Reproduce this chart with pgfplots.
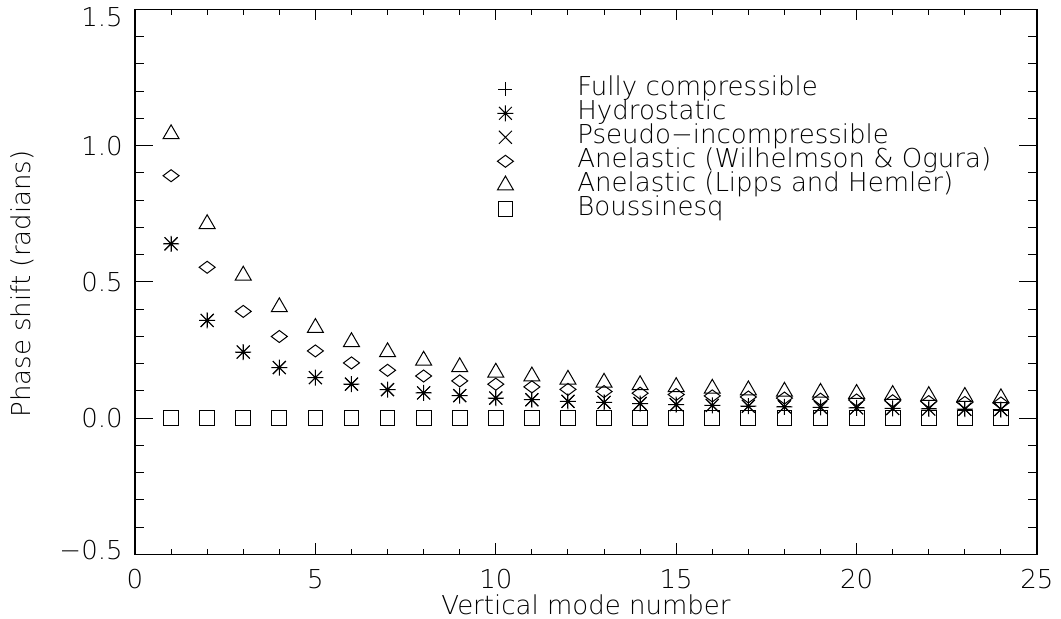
\documentclass[border=0pt]{standalone}
\usepackage{fontspec}
\IfFontExistsTF{DejaVu Sans ExtraLight}{\setmainfont{DejaVu Sans ExtraLight}}{\setmainfont{Poppins}}
\usepackage{pgfplots}
\pgfplotsset{compat=1.18}
\pgfdeclareplotmark{ast8}{%
 \pgfpathmoveto{\pgfqpoint{-\pgfplotmarksize}{0pt}}\pgfpathlineto{\pgfqpoint{\pgfplotmarksize}{0pt}}%
 \pgfpathmoveto{\pgfqpoint{0pt}{-\pgfplotmarksize}}\pgfpathlineto{\pgfqpoint{0pt}{\pgfplotmarksize}}%
 \pgfpathmoveto{\pgfqpoint{-0.8\pgfplotmarksize}{-0.8\pgfplotmarksize}}\pgfpathlineto{\pgfqpoint{0.8\pgfplotmarksize}{0.8\pgfplotmarksize}}%
 \pgfpathmoveto{\pgfqpoint{-0.8\pgfplotmarksize}{0.8\pgfplotmarksize}}\pgfpathlineto{\pgfqpoint{0.8\pgfplotmarksize}{-0.8\pgfplotmarksize}}%
 \pgfusepathqstroke}
\pgfplotstableread{
n fc hy ps aw al bq
1 0.640 0.640 0.640 0.890 1.043 0
2 0.359 0.359 0.359 0.554 0.713 0
3 0.243 0.243 0.243 0.392 0.524 0
4 0.186 0.186 0.186 0.300 0.408 0
5 0.149 0.149 0.149 0.247 0.332 0
6 0.125 0.125 0.125 0.203 0.280 0
7 0.105 0.105 0.105 0.176 0.243 0
8 0.093 0.093 0.093 0.155 0.212 0
9 0.083 0.083 0.083 0.137 0.188 0
10 0.074 0.074 0.074 0.125 0.168 0
11 0.068 0.068 0.068 0.115 0.154 0
12 0.062 0.062 0.062 0.106 0.142 0
13 0.058 0.058 0.058 0.098 0.131 0
14 0.054 0.054 0.054 0.092 0.122 0
15 0.050 0.050 0.050 0.087 0.115 0
16 0.047 0.047 0.047 0.082 0.109 0
17 0.044 0.044 0.044 0.078 0.103 0
18 0.042 0.042 0.042 0.074 0.098 0
19 0.040 0.040 0.040 0.070 0.094 0
20 0.038 0.038 0.038 0.067 0.090 0
21 0.036 0.036 0.036 0.064 0.086 0
22 0.034 0.034 0.034 0.061 0.082 0
23 0.033 0.033 0.033 0.058 0.079 0
24 0.032 0.032 0.032 0.056 0.074 0
}\datatable
\newcommand\lfont{\fontsize{13}{15}\selectfont}
\begin{document}
\begin{tikzpicture}
\begin{axis}[
  at={(0,0)}, anchor=south west, scale only axis,
  width=451pt, height=272.5pt,
  xmin=0, xmax=25, ymin=-0.5, ymax=1.5,
  xtick={0,5,10,15,20,25}, xticklabels={0,5,10,15,20,25},
  minor x tick num=4,
  ytick=\empty,
  major tick length=5.5pt, minor tick length=2.75pt,
  tick align=inside,
  every tick/.style={line width=0.5pt, black},
  axis line style={line width=0.9pt},
  xticklabel style={anchor=center, yshift=-12.25pt, inner sep=0pt, font=\lfont},
  legend cell align=left,
  legend image code/.code={
    \path[draw=none,fill=none] (0pt,-5pt) rectangle (44pt,5pt);
    \draw[mark repeat=2,mark phase=2,#1] plot coordinates {(0pt,0pt) (8pt,0pt) (44pt,0pt)};
  },
  legend style={at={(0.3925,0.8745)}, anchor=north west, draw=none, fill=none,
    inner sep=0pt, row sep=1pt, font=\lfont,
    nodes={inner sep=0pt, text height=8.5pt, text depth=2.5pt, anchor=west}},
]
\addplot[only marks, mark=+, mark size=3.5pt, line width=0.5pt] table[x=n,y=fc]{\datatable};
\addlegendentry{Fully compressible}
\addplot[only marks, mark=ast8, mark size=4pt, line width=0.5pt] table[x=n,y=hy]{\datatable};
\addlegendentry{Hydrostatic}
\addplot[only marks, mark=x, mark size=4.6pt, line width=0.5pt] table[x=n,y=ps]{\datatable};
\addlegendentry{Pseudo−incompressible}
\addplot[only marks, mark=diamond, mark size=3pt, mark options={xscale=1.78}, line width=0.5pt] table[x=n,y=aw]{\datatable};
\addlegendentry{Anelastic (Wilhelmson \& Ogura)}
\addplot[only marks, mark=triangle, mark size=4.6pt, line width=0.5pt] table[x=n,y=al]{\datatable};
\addlegendentry{Anelastic (Lipps and Hemler)}
\addplot[only marks, mark=square, mark size=3.7pt, line width=0.5pt] table[x=n,y=bq]{\datatable};
\addlegendentry{Boussinesq}
\end{axis}
\begin{axis}[
  at={(0,0)}, anchor=south west, scale only axis,
  width=451pt, height=272.5pt,
  xmin=0, xmax=25, ymin=-0.5, ymax=1.5,
  xtick=\empty,
  ytick={-0.5,0,0.5,1,1.5}, yticklabels={\raisebox{2pt}{−0.5},0.0,0.5,1.0,\raisebox{-3.75pt}{1.5}},
  minor y tick num=4,
  major tick length=9pt, minor tick length=4.5pt,
  tick align=inside,
  every tick/.style={line width=0.5pt, black},
  axis line style={line width=0.9pt},
  yticklabel style={anchor=east, xshift=-6pt, inner sep=0pt, text height=9.5pt, text depth=0pt, font=\lfont},
]
\end{axis}
\node[font=\lfont, rotate=90] at (-56.5pt,135.25pt) {Phase shift (radians)};
\node[font=\lfont] at (225.5pt,-25.25pt) {Vertical mode number};
\pgfresetboundingbox
\path (-67.5pt,-32.25pt) rectangle (463pt,277.25pt);
\end{tikzpicture}
\end{document}
